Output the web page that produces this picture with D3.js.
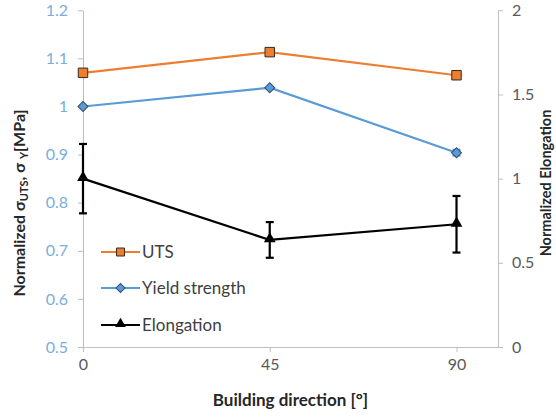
<!DOCTYPE html>
<html><head><meta charset="utf-8">
<script src="https://cdn.jsdelivr.net/npm/d3@7"></script>
<style>body{margin:0;background:#fff}svg{display:block}</style>
</head><body>
<svg id="c" width="556" height="417"></svg>
<script>
const directions = [0, 45, 90];
const xTicks = [0, 45, 90];
const leftTicks = [0.5, 0.6, 0.7, 0.8, 0.9, 1.0, 1.1, 1.2];
const rightTicks = [0, 0.5, 1, 1.5, 2];
const utsValues = [1.070, 1.113, 1.065];
const yieldValues = [1.000, 1.039, 0.904];
const yieldErrors = [0, 0, 0.006];
const elongValues = [1.000, 0.636, 0.729];
const elongErrors = [0.206, 0.106, 0.168];
const legendLabels = ["UTS", "Yield strength", "Elongation"];

const svg = d3.select("#c");
const font = "Lato, 'Open Sans', sans-serif";
const L = 83, R = 498, T = 10.3, B = 347;
const x = d3.scaleLinear().domain([0, 100]).range([L, R]);
const yL = d3.scaleLinear().domain([0.5, 1.2]).range([B, T]);
const yR = d3.scaleLinear().domain([0, 2]).range([B, T]);

const cOrange = "#ED7D31", cBlue = "#5B9BD5", cBlack = "#000";

// X axis
const gx = svg.append("g").attr("transform", `translate(0,${B})`)
  .call(d3.axisBottom(x).tickValues(xTicks).tickSize(5).tickPadding(7).tickSizeOuter(0));
gx.select(".domain").attr("stroke", "#BFBFBF");
gx.selectAll(".tick line").attr("stroke", "#BFBFBF");
gx.selectAll(".tick text").attr("fill", "#595959").attr("font-family", font).attr("font-size", 16);

// Left axis
const gl = svg.append("g").attr("transform", `translate(${L},0)`)
  .call(d3.axisLeft(yL).tickValues(leftTicks).tickFormat(d => d3.format("")(+d.toFixed(1))).tickSize(5).tickPadding(10).tickSizeOuter(0));
gl.select(".domain").attr("stroke", "#9DC3E6");
gl.selectAll(".tick line").attr("stroke", "#9DC3E6");
gl.selectAll(".tick text").attr("fill", "#7AAEDD").attr("font-family", font).attr("font-size", 16);

// Right axis
const gr = svg.append("g").attr("transform", `translate(${R},0)`)
  .call(d3.axisRight(yR).tickValues(rightTicks).tickFormat(d => String(d)).tickSize(5).tickPadding(9).tickSizeOuter(0));
gr.select(".domain").attr("stroke", "#BFBFBF");
gr.selectAll(".tick line").attr("stroke", "#BFBFBF");
gr.selectAll(".tick text").attr("fill", "#595959").attr("font-family", font).attr("font-size", 16);

// Axis titles
svg.append("text").attr("x", (L + R) / 2).attr("y", 406).attr("text-anchor", "middle")
  .attr("font-family", font).attr("font-weight", "bold").attr("font-size", 17).attr("fill", "#262626")
  .text("Building direction [°]");

const lt = svg.append("text").attr("transform", "translate(25,203) rotate(-90)").attr("text-anchor", "middle")
  .attr("font-family", font).attr("font-weight", "bold").attr("font-size", 16).attr("fill", "#262626");
lt.append("tspan").text("Normalized σ");
lt.append("tspan").attr("font-size", 11).attr("dy", 3).text("UTS");
lt.append("tspan").attr("dy", -3).text(", σ ");
lt.append("tspan").attr("font-size", 11).attr("dy", 3).text("Y");
lt.append("tspan").attr("dy", -3).text("[MPa]");

svg.append("text").attr("transform", "translate(551,183) rotate(-90)").attr("text-anchor", "middle")
  .attr("font-family", font).attr("font-weight", "bold").attr("font-size", 14.5).attr("fill", "#262626")
  .text("Normalized Elongation");

// Lines
const lineL = d3.line().x((d, i) => x(directions[i])).y(d => yL(d));
const lineR = d3.line().x((d, i) => x(directions[i])).y(d => yR(d));

svg.append("path").datum(utsValues).attr("d", lineL).attr("fill", "none").attr("stroke", cOrange).attr("stroke-width", 2.2);
svg.append("path").datum(yieldValues).attr("d", lineL).attr("fill", "none").attr("stroke", cBlue).attr("stroke-width", 2.2);
svg.append("path").datum(elongValues).attr("d", lineR).attr("fill", "none").attr("stroke", cBlack).attr("stroke-width", 2.2);

// Error bars
function errBars(vals, errs, scale, color, cap) {
  const g = svg.append("g").attr("stroke", color).attr("stroke-width", 2.2).attr("fill", "none");
  vals.forEach((v, i) => {
    if (!errs[i]) return;
    const cx = x(directions[i]), y1 = scale(v + errs[i]), y2 = scale(v - errs[i]);
    g.append("line").attr("x1", cx).attr("x2", cx).attr("y1", y1).attr("y2", y2);
    g.append("line").attr("x1", cx - cap).attr("x2", cx + cap).attr("y1", y1).attr("y2", y1);
    g.append("line").attr("x1", cx - cap).attr("x2", cx + cap).attr("y1", y2).attr("y2", y2);
  });
}
errBars(yieldValues, yieldErrors, yL, cBlue, 4);
errBars(elongValues, elongErrors, yR, cBlack, 4);

// Markers
const sqSym = d3.symbol().type(d3.symbolSquare);
const triSym = d3.symbol().type(d3.symbolTriangle);
svg.append("g").selectAll("path").data(utsValues).join("path")
  .attr("transform", (d, i) => `translate(${x(directions[i])},${yL(d)})`).attr("d", sqSym.size(90)())
  .attr("fill", cOrange).attr("stroke", "#3a2a1a").attr("stroke-width", 1);
svg.append("g").selectAll("path").data(yieldValues).join("path")
  .attr("transform", (d, i) => `translate(${x(directions[i])},${yL(d)}) rotate(45)`).attr("d", sqSym.size(50)())
  .attr("fill", cBlue).attr("stroke", "#2f4f6f").attr("stroke-width", 1);
svg.append("g").selectAll("path").data(elongValues).join("path")
  .attr("transform", (d, i) => `translate(${x(directions[i])},${yR(d) - 1})`).attr("d", triSym.size(60)())
  .attr("fill", cBlack);

// Legend
const legColors = [cOrange, cBlue, cBlack];
const legStroke = ["#3a2a1a", "#2f4f6f", "none"];
const legY = [252, 288, 325];
legendLabels.forEach((lab, i) => {
  const g = svg.append("g").attr("transform", `translate(0,${legY[i]})`);
  g.append("line").attr("x1", 101).attr("x2", 140).attr("y1", 0).attr("y2", 0).attr("stroke", legColors[i]).attr("stroke-width", 2.2);
  let tr = "translate(120.5,0)", d;
  if (i === 0) d = sqSym.size(64)();
  else if (i === 1) { d = sqSym.size(40)(); tr += " rotate(45)"; }
  else { d = triSym.size(50)(); tr = "translate(120.5,-1)"; }
  g.append("path").attr("transform", tr).attr("d", d)
    .attr("fill", legColors[i]).attr("stroke", legStroke[i]).attr("stroke-width", 1);
  g.append("text").attr("x", 142).attr("y", 0).attr("dy", "0.35em")
    .attr("font-family", font).attr("font-size", 17).attr("fill", "#404040").text(lab);
});
</script>
</body></html>
